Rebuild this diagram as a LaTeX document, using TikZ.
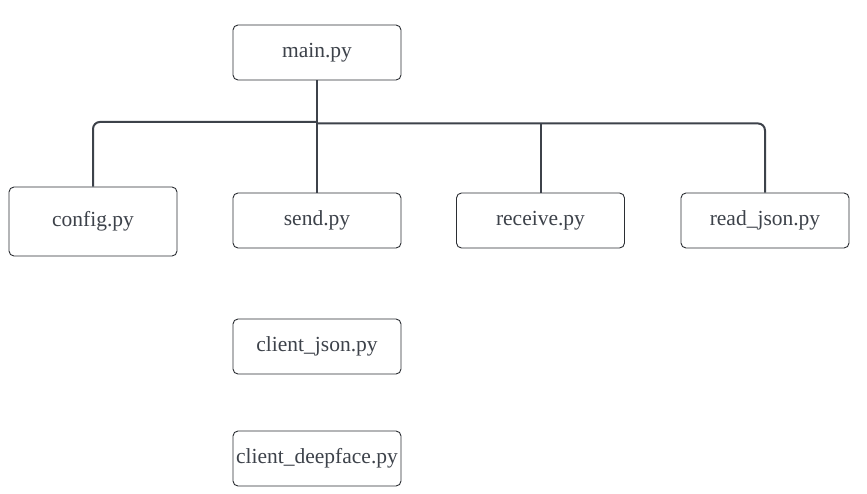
\documentclass[tikz,border=0pt]{standalone}
\usepackage{fontspec}
\setmainfont{Liberation Serif}
\usepackage{tikz}

\definecolor{boxline}{HTML}{2B2E33}
\definecolor{wire}{HTML}{3D424A}
\definecolor{label}{HTML}{3D424A}

\begin{document}
\begin{tikzpicture}[x=1pt,y=-1pt,
  file/.style={draw=boxline,line width=0.9pt,rounded corners=5pt,minimum width=168pt,minimum height=55pt,inner sep=0pt,text=label,font=\fontsize{21.5}{26}\selectfont},
  link/.style={draw=wire,line width=2pt,rounded corners=7pt}]
  \useasboundingbox[fill=white] (0,0) rectangle (867,493);
  %top
  \node[file,name=main] at (317,52.5) {main.py};
  %row of modules
  \node[file,name=config,minimum height=69pt] at (93,221.5) {config.py};
  \node[file,name=send] at (317,220.5) {send.py};
  \node[file,name=receive] at (540.5,220.5) {receive.py};
  \node[file,name=readjson] at (765,220.5) {read\_json.py};
  %clients
  \node[file,name=cjson] at (317,346.5) {client\_json.py};
  \node[file,name=cdeep] at (317,458.5) {client\_deepface.py};
  %wires
  \coordinate (splitL) at ([yshift=-41.5pt]main.south);
  \coordinate (splitR) at ([yshift=-43pt]main.south);
  \draw[link] (main.south) -- (send.north);
  \draw[link] (splitL) -| (config.north);
  \draw[link] (splitR) -| (readjson.north);
  \draw[link] (receive.north |- splitR) -- (receive.north);
\end{tikzpicture}
\end{document}
